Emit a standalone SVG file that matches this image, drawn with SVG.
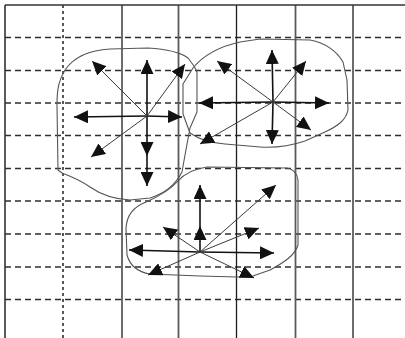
<svg xmlns="http://www.w3.org/2000/svg" width="405" height="338" viewBox="0 0 405 338">
<defs>
<style>
.bg{fill:#fff}
.hd{stroke:#2e2e2e;stroke-width:1.3;stroke-dasharray:6 4;fill:none}
.vd{stroke:#2e2e2e;stroke-width:1.6;stroke-dasharray:3 3;fill:none}
.vs{stroke:#1e1e1e;stroke-width:1.3;fill:none}
.vg{stroke:#5a5a5a;stroke-width:1.8;fill:none}
.border{stroke:#333;stroke-width:1.6;fill:none}
.blob{fill:none;stroke:#555;stroke-width:1.1;stroke-linejoin:round}
.ax{stroke:#111;stroke-width:1.6;fill:none;marker-end:url(#ah)}
.dg{stroke:#3a3a3a;stroke-width:1;fill:none;marker-end:url(#ah)}
</style>
<marker id="ah" markerUnits="userSpaceOnUse" markerWidth="14" markerHeight="13" viewBox="0 0 14 13" refX="14" refY="6.5" orient="auto">
<path d="M0,0 L14,6.5 L0,13 Z" fill="#111"/>
</marker>
</defs>
<rect class="bg" x="0" y="0" width="405" height="338"/>
<g id="grid">
<line class="hd" x1="5" y1="37.5" x2="405" y2="37.5"/>
<line class="hd" x1="5" y1="70.5" x2="405" y2="70.5"/>
<line class="hd" x1="5" y1="103" x2="405" y2="103"/>
<line class="hd" x1="5" y1="135.5" x2="405" y2="135.5"/>
<line class="hd" x1="5" y1="168.5" x2="405" y2="168.5"/>
<line class="hd" x1="5" y1="201" x2="405" y2="201"/>
<line class="hd" x1="5" y1="234" x2="405" y2="234"/>
<line class="hd" x1="5" y1="267" x2="405" y2="267"/>
<line class="hd" x1="5" y1="299.5" x2="405" y2="299.5"/>
<line class="vd" x1="63" y1="5" x2="63" y2="338"/>
<line class="vs" x1="122" y1="5" x2="122" y2="338"/>
<line class="vg" x1="178.5" y1="5" x2="178.5" y2="338"/>
<line class="vs" x1="236.5" y1="5" x2="236.5" y2="338"/>
<line class="vg" x1="295.5" y1="5" x2="295.5" y2="338"/>
<line class="vs" x1="353" y1="5" x2="353" y2="338"/>
<line class="border" x1="5" y1="5" x2="405" y2="5"/>
<line class="border" x1="5" y1="5" x2="5" y2="338"/>
</g>
<g id="cluster-1">
<path class="blob" d="M62,173 L58,170 L57,105 C57,88 59,80 65,70 C74,57 90,50 110,49 L148,48 C165,49 180,52 188,58 L194,66 L197,72 L197,112 L190,128 L185,155 L182,172 C176,184 166,193 150,198 L130,200 C112,199 100,194 90,187 C80,180 70,176 62,173 Z"/>
</g>
<g id="cluster-2">
<path class="blob" d="M193,68 C202,57 217,47 240,42 L260,39 L310,40 C325,43 336,50 343,62 L347,80 L348,110 C346,120 338,126 325,132 L305,141 C290,146 275,148 260,147 L225,144 C210,143 200,140 190,133 L183,114 L183,84 Z"/>
</g>
<g id="cluster-3">
<path class="blob" d="M178,181 C184,174 193,169 207,167 L287,168 C293,169 297,173 298,180 L298,245 C295,255 285,262 270,270 L253,276 L237,277 L200,276 L150,274 C138,272 130,266 127,255 L126,228 C127,214 134,207 146,202 C160,196 171,189 178,181 Z"/>
</g>
<g id="connectors">
<line class="ax" x1="147" y1="116" x2="147" y2="60"/>
<line class="ax" x1="147" y1="116" x2="147" y2="156"/>
<line class="ax" x1="147" y1="156" x2="147" y2="186"/>
<line class="ax" x1="147" y1="116" x2="74" y2="117"/>
<line class="ax" x1="147" y1="116" x2="182" y2="117"/>
<line class="dg" x1="147" y1="116" x2="92" y2="61"/>
<line class="dg" x1="147" y1="116" x2="185" y2="64"/>
<line class="dg" x1="147" y1="116" x2="91" y2="157"/>
<line class="ax" x1="273" y1="102" x2="272" y2="50"/>
<line class="ax" x1="273" y1="102" x2="272" y2="144"/>
<line class="ax" x1="273" y1="102" x2="199" y2="103"/>
<line class="ax" x1="273" y1="102" x2="329" y2="103"/>
<line class="dg" x1="273" y1="102" x2="217" y2="61"/>
<line class="dg" x1="273" y1="102" x2="306" y2="61"/>
<line class="dg" x1="273" y1="102" x2="311" y2="130"/>
<line class="dg" x1="273" y1="102" x2="200" y2="144"/>
<line class="ax" x1="200" y1="252" x2="200" y2="226"/>
<line class="ax" x1="200" y1="226" x2="200" y2="185"/>
<line class="ax" x1="200" y1="252" x2="129" y2="250"/>
<line class="ax" x1="200" y1="252" x2="274" y2="253"/>
<line class="dg" x1="200" y1="252" x2="163" y2="227"/>
<line class="dg" x1="200" y1="252" x2="259" y2="228"/>
<line class="dg" x1="200" y1="252" x2="276" y2="185"/>
<line class="dg" x1="200" y1="252" x2="148" y2="275"/>
<line class="dg" x1="200" y1="252" x2="254" y2="278"/>
</g>
</svg>
